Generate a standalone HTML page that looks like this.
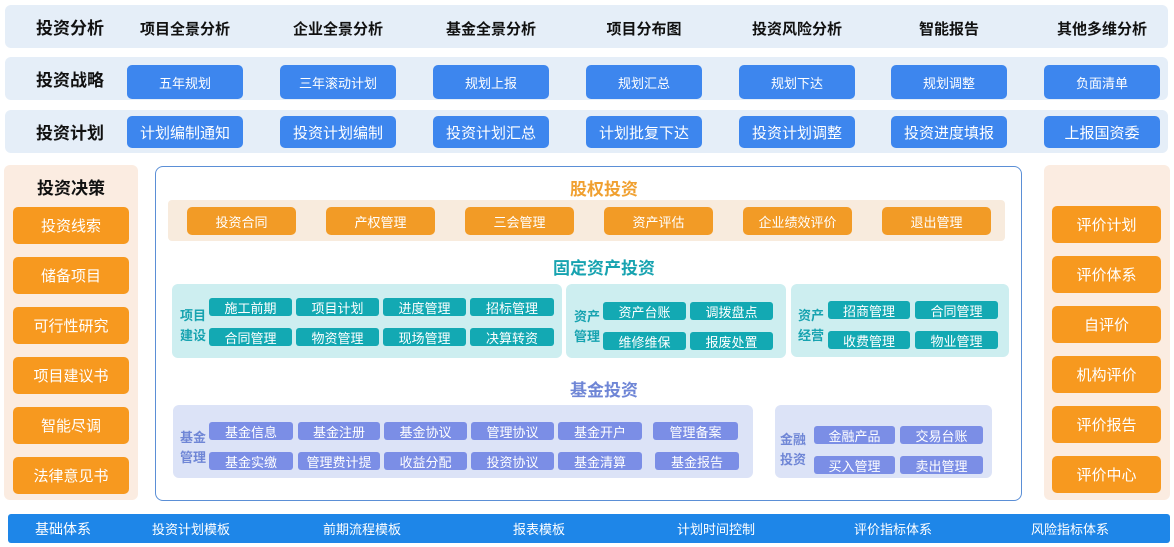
<!DOCTYPE html><html><head><meta charset="utf-8"><style>
*{margin:0;padding:0;box-sizing:border-box}
body{width:1174px;height:547px;background:#fff;position:relative;overflow:hidden;font-family:"Liberation Sans","Noto Sans CJK SC",sans-serif}
div{position:absolute}
.c{display:flex;align-items:center;justify-content:center;white-space:nowrap}
.row{left:5px;width:1163px;background:#e5eef8;border-radius:6px}
.h{font-weight:bold;font-size:17px;color:#111}
.t{font-size:15px;font-weight:bold;color:#111}
.bb{background:#3d86ee;color:#fff;border-radius:5px;width:116px}
.ob{background:#f7991f;color:#fff;border-radius:5px;font-size:15px}
.tb{background:#13a9b3;color:#fff;border-radius:3px;font-size:13px;height:18px}
.pb{background:#7b8ee6;color:#fff;border-radius:3px;font-size:13px;height:18px}
.tl{color:#17a3b0;font-weight:bold;font-size:13px;line-height:20px;width:32px;text-align:center}
.pl{color:#6f86d6;font-weight:bold;font-size:13px;line-height:20px;width:32px;text-align:center}
</style></head><body>
<div class="row" style="top:5px;height:43px"></div>
<div class="row" style="top:57px;height:43px"></div>
<div class="row" style="top:110px;height:43px"></div>
<div class="c h" style="left:20px;width:100px;top:5px;height:43px">投资分析</div>
<div class="c h" style="left:20px;width:100px;top:57px;height:43px">投资战略</div>
<div class="c h" style="left:20px;width:100px;top:110px;height:43px">投资计划</div>
<div class="c t" style="left:127px;width:116px;top:8px;height:40px">项目全景分析</div>
<div class="c t" style="left:280px;width:116px;top:8px;height:40px">企业全景分析</div>
<div class="c t" style="left:433px;width:116px;top:8px;height:40px">基金全景分析</div>
<div class="c t" style="left:586px;width:116px;top:8px;height:40px">项目分布图</div>
<div class="c t" style="left:739px;width:116px;top:8px;height:40px">投资风险分析</div>
<div class="c t" style="left:891px;width:116px;top:8px;height:40px">智能报告</div>
<div class="c t" style="left:1044px;width:116px;top:8px;height:40px">其他多维分析</div>
<div class="c bb" style="left:127px;top:65px;height:34px;font-size:13px">五年规划</div>
<div class="c bb" style="left:280px;top:65px;height:34px;font-size:13px">三年滚动计划</div>
<div class="c bb" style="left:433px;top:65px;height:34px;font-size:13px">规划上报</div>
<div class="c bb" style="left:586px;top:65px;height:34px;font-size:13px">规划汇总</div>
<div class="c bb" style="left:739px;top:65px;height:34px;font-size:13px">规划下达</div>
<div class="c bb" style="left:891px;top:65px;height:34px;font-size:13px">规划调整</div>
<div class="c bb" style="left:1044px;top:65px;height:34px;font-size:13px">负面清单</div>
<div class="c bb" style="left:127px;top:116px;height:32px;font-size:15px">计划编制通知</div>
<div class="c bb" style="left:280px;top:116px;height:32px;font-size:15px">投资计划编制</div>
<div class="c bb" style="left:433px;top:116px;height:32px;font-size:15px">投资计划汇总</div>
<div class="c bb" style="left:586px;top:116px;height:32px;font-size:15px">计划批复下达</div>
<div class="c bb" style="left:739px;top:116px;height:32px;font-size:15px">投资计划调整</div>
<div class="c bb" style="left:891px;top:116px;height:32px;font-size:15px">投资进度填报</div>
<div class="c bb" style="left:1044px;top:116px;height:32px;font-size:15px">上报国资委</div>

<div style="left:4px;top:165px;width:134px;height:335px;background:#fbece1;border-radius:6px"></div>
<div class="c h" style="left:4px;width:134px;top:174px;height:24px">投资决策</div>
<div class="c ob" style="left:13px;width:116px;top:207px;height:37px">投资线索</div>
<div class="c ob" style="left:13px;width:116px;top:257px;height:37px">储备项目</div>
<div class="c ob" style="left:13px;width:116px;top:307px;height:37px">可行性研究</div>
<div class="c ob" style="left:13px;width:116px;top:357px;height:37px">项目建议书</div>
<div class="c ob" style="left:13px;width:116px;top:407px;height:37px">智能尽调</div>
<div class="c ob" style="left:13px;width:116px;top:457px;height:37px">法律意见书</div>

<div style="left:1044px;top:165px;width:126px;height:335px;background:#fbece1;border-radius:6px"></div>
<div class="c ob" style="left:1052px;width:109px;top:206px;height:37px">评价计划</div>
<div class="c ob" style="left:1052px;width:109px;top:256px;height:37px">评价体系</div>
<div class="c ob" style="left:1052px;width:109px;top:306px;height:37px">自评价</div>
<div class="c ob" style="left:1052px;width:109px;top:356px;height:37px">机构评价</div>
<div class="c ob" style="left:1052px;width:109px;top:406px;height:37px">评价报告</div>
<div class="c ob" style="left:1052px;width:109px;top:456px;height:37px">评价中心</div>

<div style="left:155px;top:166px;width:867px;height:335px;border:1px solid #5b8fd6;border-radius:8px"></div>
<div class="c" style="left:504px;width:200px;top:176px;height:22px;color:#f0a030;font-weight:bold;font-size:17px">股权投资</div>
<div style="left:168px;top:200px;width:837px;height:41px;background:#f8ebdd;border-radius:4px"></div>
<div class="c ob" style="left:187px;width:109px;top:207px;height:28px;font-size:13px;background:#f29b26">投资合同</div>
<div class="c ob" style="left:326px;width:109px;top:207px;height:28px;font-size:13px;background:#f29b26">产权管理</div>
<div class="c ob" style="left:465px;width:109px;top:207px;height:28px;font-size:13px;background:#f29b26">三会管理</div>
<div class="c ob" style="left:604px;width:109px;top:207px;height:28px;font-size:13px;background:#f29b26">资产评估</div>
<div class="c ob" style="left:743px;width:109px;top:207px;height:28px;font-size:13px;background:#f29b26">企业绩效评价</div>
<div class="c ob" style="left:882px;width:109px;top:207px;height:28px;font-size:13px;background:#f29b26">退出管理</div>

<div class="c" style="left:504px;width:200px;top:255px;height:22px;color:#17a3b0;font-weight:bold;font-size:17px">固定资产投资</div>
<div style="left:172px;top:284px;width:390px;height:74px;background:#cdeef0;border-radius:6px"></div>
<div style="left:566px;top:284px;width:220px;height:74px;background:#cdeef0;border-radius:6px"></div>
<div style="left:791px;top:284px;width:218px;height:73px;background:#cdeef0;border-radius:6px"></div>
<div class="tl" style="left:177px;top:306px">项目<br>建设</div>
<div class="c tb" style="left:209px;width:83px;top:298px">施工前期</div>
<div class="c tb" style="left:296px;width:83px;top:298px">项目计划</div>
<div class="c tb" style="left:383px;width:83px;top:298px">进度管理</div>
<div class="c tb" style="left:470px;width:84px;top:298px">招标管理</div>
<div class="c tb" style="left:209px;width:83px;top:328px">合同管理</div>
<div class="c tb" style="left:296px;width:83px;top:328px">物资管理</div>
<div class="c tb" style="left:383px;width:83px;top:328px">现场管理</div>
<div class="c tb" style="left:470px;width:84px;top:328px">决算转资</div>
<div class="tl" style="left:571px;top:307px">资产<br>管理</div>
<div class="c tb" style="left:603px;width:83px;top:302px">资产台账</div>
<div class="c tb" style="left:690px;width:83px;top:302px">调拨盘点</div>
<div class="c tb" style="left:603px;width:83px;top:332px">维修维保</div>
<div class="c tb" style="left:690px;width:83px;top:332px">报废处置</div>
<div class="tl" style="left:795px;top:306px">资产<br>经营</div>
<div class="c tb" style="left:828px;width:82px;top:301px">招商管理</div>
<div class="c tb" style="left:915px;width:83px;top:301px">合同管理</div>
<div class="c tb" style="left:828px;width:82px;top:331px">收费管理</div>
<div class="c tb" style="left:915px;width:83px;top:331px">物业管理</div>

<div class="c" style="left:504px;width:200px;top:377px;height:22px;color:#6f86d6;font-weight:bold;font-size:17px">基金投资</div>
<div style="left:173px;top:405px;width:580px;height:73px;background:#dce3f7;border-radius:6px"></div>
<div style="left:775px;top:405px;width:217px;height:73px;background:#dce3f7;border-radius:6px"></div>
<div class="pl" style="left:177px;top:428px">基金<br>管理</div>
<div class="c pb" style="left:209px;width:84px;top:422px">基金信息</div>
<div class="c pb" style="left:298px;width:82px;top:422px">基金注册</div>
<div class="c pb" style="left:384px;width:83px;top:422px">基金协议</div>
<div class="c pb" style="left:471px;width:83px;top:422px">管理协议</div>
<div class="c pb" style="left:558px;width:84px;top:422px">基金开户</div>
<div class="c pb" style="left:653px;width:85px;top:422px">管理备案</div>
<div class="c pb" style="left:209px;width:84px;top:452px">基金实缴</div>
<div class="c pb" style="left:298px;width:82px;top:452px">管理费计提</div>
<div class="c pb" style="left:384px;width:83px;top:452px">收益分配</div>
<div class="c pb" style="left:471px;width:83px;top:452px">投资协议</div>
<div class="c pb" style="left:558px;width:84px;top:452px">基金清算</div>
<div class="c pb" style="left:655px;width:84px;top:452px">基金报告</div>
<div class="pl" style="left:777px;top:430px">金融<br>投资</div>
<div class="c pb" style="left:814px;width:81px;top:426px">金融产品</div>
<div class="c pb" style="left:900px;width:83px;top:426px">交易台账</div>
<div class="c pb" style="left:814px;width:81px;top:456px">买入管理</div>
<div class="c pb" style="left:900px;width:83px;top:456px">卖出管理</div>

<div style="left:8px;top:514px;width:1162px;height:29px;background:#1e86e8;border-radius:3px"></div>
<div class="c" style="left:13px;width:100px;top:514px;height:29px;color:#fff;font-size:14px">基础体系</div>
<div class="c" style="left:131px;width:120px;top:514px;height:29px;color:#fff;font-size:13px">投资计划模板</div>
<div class="c" style="left:302px;width:120px;top:514px;height:29px;color:#fff;font-size:13px">前期流程模板</div>
<div class="c" style="left:479px;width:120px;top:514px;height:29px;color:#fff;font-size:13px">报表模板</div>
<div class="c" style="left:656px;width:120px;top:514px;height:29px;color:#fff;font-size:13px">计划时间控制</div>
<div class="c" style="left:833px;width:120px;top:514px;height:29px;color:#fff;font-size:13px">评价指标体系</div>
<div class="c" style="left:1010px;width:120px;top:514px;height:29px;color:#fff;font-size:13px">风险指标体系</div>
</body></html>
